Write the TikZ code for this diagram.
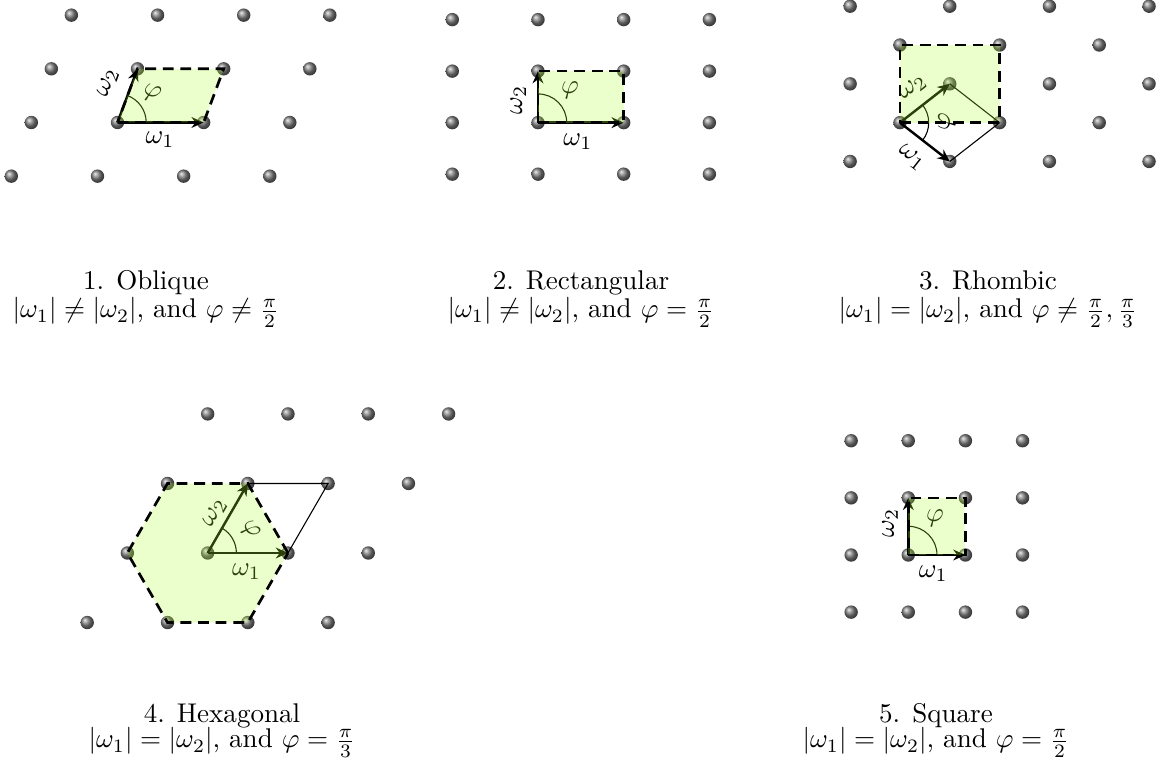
\documentclass[tikz,border=0pt]{standalone}
\usepackage{amsmath,amssymb}
\usepackage{xcolor}
\usepackage{tikz}
\usetikzlibrary{arrows.meta,positioning}
\definecolor{cellgreen}{RGB}{173,255,47}
\tikzset{
  site/.style={shading=ball, ball color=gray},
  basisvec/.style={-{Stealth[length=4.5pt,width=4pt]}, line width=0.9pt},
  cellfill/.style={fill=cellgreen, fill opacity=0.25},
  cellborder/.style={line width=1pt, dash pattern=on 4pt off 2.5pt},
  helper/.style={line width=0.4pt},
  anglearc/.style={line width=0.4pt},
  veclabel/.style={inner sep=0pt},
  capline/.style={inner sep=0pt, anchor=base},
}

\begin{document}
\begin{tikzpicture}
  \useasboundingbox (0,0) rectangle (15.065,9.922);
  % 1. oblique
  \begin{scope}[shift={(1.526,8.331)}]
    \foreach \i in {-1,...,2}
      \foreach \j in {-1,...,2}
        \shade[site] ({1.119*\i+0.260*\j},{0.697*\j}) circle (0.087);
    \coordinate (obl-o) at (0,0);
    \coordinate (obl-a) at (1.119,0);
    \coordinate (obl-b) at (0.260,0.697);
    \coordinate (obl-c) at (1.379,0.697);
    \draw[basisvec] (obl-o) -- (obl-a);
    \draw[basisvec] (obl-o) -- (obl-b);
    \draw[anglearc] (obl-o) ++(0:0.373) arc[start angle=0, end angle=69.5, radius=0.373];
    \node[veclabel] (obl-w1) at (0.552,-0.227) {$\omega_1$};
    \node[veclabel, rotate=69.5] (obl-w2) at (-0.123,0.513) {$\omega_2$};
    \node[veclabel, rotate=-20] (obl-phi) at (0.444,0.379) {$\varphi$};
    \fill[cellfill] (obl-o) -- (obl-a) -- (obl-c) -- (obl-b) -- cycle;
    \draw[cellborder] (obl-o) -- (obl-a) -- (obl-c) -- (obl-b) -- cycle;
  \end{scope}
  % 2. rectangular
  \begin{scope}[shift={(6.987,8.329)}]
    \foreach \i in {-1,...,2}
      \foreach \j in {-1,...,2}
        \shade[site] ({1.113*\i},{0.669*\j}) circle (0.087);
    \coordinate (rec-o) at (0,0);
    \coordinate (rec-a) at (1.113,0);
    \coordinate (rec-b) at (0,0.669);
    \coordinate (rec-c) at (1.113,0.669);
    \draw[basisvec] (rec-o) -- (rec-a);
    \draw[basisvec] (rec-o) -- (rec-b);
    \draw[anglearc] (rec-o) ++(0:0.373) arc[start angle=0, end angle=90, radius=0.373];
    \node[veclabel] (rec-w1) at (0.519,-0.251) {$\omega_1$};
    \node[veclabel, rotate=90] (rec-w2) at (-0.256,0.295) {$\omega_2$};
    \node[veclabel] (rec-phi) at (0.416,0.425) {$\varphi$};
    \fill[cellfill] (rec-o) -- (rec-a) -- (rec-c) -- (rec-b) -- cycle;
    \draw[cellborder] (rec-o) -- (rec-a) -- (rec-c) -- (rec-b) -- cycle;
  \end{scope}
  % 3. rhombic
  \begin{scope}[shift={(11.688,8.329)}]
    \foreach \k in {0,1,2}
      \foreach \l in {0,1}
        \shade[site] ({1.294*\k},{1.008*\l}) circle (0.087);
    \foreach \k in {-1,...,2}
      \foreach \l in {-1,0,1}
        \shade[site] ({1.294*\k+0.647},{1.008*\l+0.504}) circle (0.087);
    \coordinate (rho-o) at (0,0);
    \coordinate (rho-a) at (0.647,-0.504);
    \coordinate (rho-b) at (0.647,0.504);
    \coordinate (rho-c) at (1.294,0);
    \coordinate (rho-d) at (0,1.008);
    \coordinate (rho-e) at (1.294,1.008);
    \draw[basisvec] (rho-o) -- (rho-a);
    \draw[basisvec] (rho-o) -- (rho-b);
    \draw[helper] (rho-b) -- (rho-c) -- (rho-a);
    \draw[anglearc] (rho-o) ++(-37.9:0.373) arc[start angle=-37.9, end angle=37.9, radius=0.373];
    \node[veclabel, rotate=-38] (rho-w1) at (0.152,-0.458) {$\omega_1$};
    \node[veclabel, rotate=38] (rho-w2) at (0.169,0.451) {$\omega_2$};
    \node[veclabel, rotate=90] (rho-phi) at (0.606,0.013) {$\varphi$};
    \fill[cellfill] (rho-o) -- (rho-c) -- (rho-e) -- (rho-d) -- cycle;
    \draw[cellborder] (rho-o) -- (rho-c) -- (rho-e) -- (rho-d) -- cycle;
  \end{scope}
  % 4. hexagonal
  \begin{scope}[shift={(2.697,2.740)}]
    \foreach \i in {-1,...,2}
      \foreach \j in {-1,...,2}
        \shade[site] ({1.043*\i+0.5215*\j},{0.903*\j}) circle (0.087);
    \coordinate (hex-o) at (0,0);
    \coordinate (hex-a) at (1.043,0);
    \coordinate (hex-b) at (0.5215,0.903);
    \coordinate (hex-c) at (1.5645,0.903);
    \foreach \k in {0,...,5}
      \coordinate (hex-v\k) at (60*\k:1.043);
    \draw[basisvec] (hex-o) -- (hex-a);
    \draw[basisvec] (hex-o) -- (hex-b);
    \draw[helper] (hex-b) -- (hex-c) -- (hex-a);
    \draw[anglearc] (hex-o) ++(0:0.373) arc[start angle=0, end angle=60, radius=0.373];
    \node[veclabel] (hex-w1) at (0.506,-0.243) {$\omega_1$};
    \node[veclabel, rotate=60] (hex-w2) at (0.095,0.519) {$\omega_2$};
    \node[veclabel, rotate=-50] (hex-phi) at (0.549,0.299) {$\varphi$};
    \fill[cellfill] (hex-v0) -- (hex-v1) -- (hex-v2) -- (hex-v3) -- (hex-v4) -- (hex-v5) -- cycle;
    \draw[cellborder] (hex-v0) -- (hex-v1) -- (hex-v2) -- (hex-v3) -- (hex-v4) -- (hex-v5) -- cycle;
  \end{scope}
  % 5. square
  \begin{scope}[shift={(11.796,2.714)}]
    \foreach \i in {-1,...,2}
      \foreach \j in {-1,...,2}
        \shade[site] ({0.742*\i},{0.742*\j}) circle (0.087);
    \coordinate (sq-o) at (0,0);
    \coordinate (sq-a) at (0.742,0);
    \coordinate (sq-b) at (0,0.742);
    \coordinate (sq-c) at (0.742,0.742);
    \draw[basisvec] (sq-o) -- (sq-a);
    \draw[basisvec] (sq-o) -- (sq-b);
    \draw[anglearc] (sq-o) ++(0:0.373) arc[start angle=0, end angle=90, radius=0.373];
    \node[veclabel] (sq-w1) at (0.325,-0.247) {$\omega_1$};
    \node[veclabel, rotate=90] (sq-w2) at (-0.238,0.412) {$\omega_2$};
    \node[veclabel] (sq-phi) at (0.347,0.477) {$\varphi$};
    \fill[cellfill] (sq-o) -- (sq-a) -- (sq-c) -- (sq-b) -- cycle;
    \draw[cellborder] (sq-o) -- (sq-a) -- (sq-c) -- (sq-b) -- cycle;
  \end{scope}
  % captions
  \node[capline] (obl-name) at (1.896,6.156) {1. Oblique};
  \node[capline] (obl-cond) at (1.896,5.792) {$|\omega_1|\neq|\omega_2|$, and $\varphi\neq\frac{\pi}{2}$};
  \node[capline] (rec-name) at (7.545,6.156) {2. Rectangular};
  \node[capline] (rec-cond) at (7.545,5.792) {$|\omega_1|\neq|\omega_2|$, and $\varphi=\frac{\pi}{2}$};
  \node[capline] (rho-name) at (12.831,6.156) {3. Rhombic};
  \node[capline] (rho-cond) at (12.831,5.792) {$|\omega_1|=|\omega_2|$, and $\varphi\neq\frac{\pi}{2},\frac{\pi}{3}$};
  \node[capline] (hex-name) at (2.883,0.545) {4. Hexagonal};
  \node[capline] (hex-cond) at (2.883,0.208) {$|\omega_1|=|\omega_2|$, and $\varphi=\frac{\pi}{3}$};
  \node[capline] (sq-name) at (12.156,0.545) {5. Square};
  \node[capline] (sq-cond) at (12.156,0.208) {$|\omega_1|=|\omega_2|$, and $\varphi=\frac{\pi}{2}$};
\end{tikzpicture}
\end{document}
